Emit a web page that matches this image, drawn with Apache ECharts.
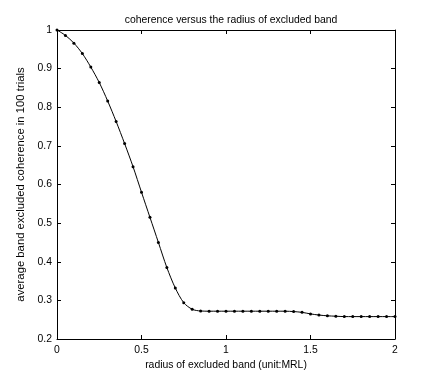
<!DOCTYPE html>
<html><head><meta charset="utf-8">
<script src="https://cdn.jsdelivr.net/npm/echarts@6/dist/echarts.min.js"></script>
<style>html,body{margin:0;padding:0;background:#fff}#c{width:436px;height:382px}</style>
</head><body><div id="c"></div>
<script>
var radius = [0,0.05,0.1,0.15,0.2,0.25,0.3,0.35,0.4,0.45,0.5,0.55,0.6,0.65,0.7,0.75,0.8,0.85,0.9,0.95,1,1.05,1.1,1.15,1.2,1.25,1.3,1.35,1.4,1.45,1.5,1.55,1.6,1.65,1.7,1.75,1.8,1.85,1.9,1.95,2];
var coherence = [1.0,0.986,0.966,0.939,0.904,0.864,0.816,0.763,0.706,0.646,0.580,0.515,0.450,0.385,0.332,0.294,0.277,0.2725,0.272,0.272,0.272,0.272,0.272,0.272,0.272,0.272,0.272,0.272,0.271,0.269,0.265,0.262,0.260,0.259,0.258,0.258,0.258,0.258,0.258,0.258,0.258];
var titleText = "coherence versus the radius of excluded band";
var xName = "radius of excluded band (unit:MRL)";
var yName = "average band excluded coherence in 100 trials";

var data = radius.map(function(r,i){return [r, coherence[i]];});
var font = "Liberation Sans, Arial, sans-serif";
var axBase = {
  axisLine:{show:true,onZero:false,lineStyle:{color:'#000',width:1}},
  axisTick:{show:true,inside:true,length:4,lineStyle:{color:'#000'}},
  splitLine:{show:false}
};
var chart = echarts.init(document.getElementById('c'));
chart.setOption({
  animation:false,
  backgroundColor:'#fff',
  title:{text:titleText,left:226,textAlign:'center',top:10,textStyle:{fontFamily:font,fontSize:10.4,fontWeight:'normal',color:'#000'}},
  grid:{left:57,right:41,top:30,bottom:43},
  xAxis:[
    Object.assign({type:'value',min:0,max:2,interval:0.5,position:'bottom',
      name:xName,nameLocation:'middle',nameGap:19,
      nameTextStyle:{fontFamily:font,fontSize:10.4,color:'#000'},
      axisLabel:{fontFamily:font,fontSize:10.4,color:'#000',margin:6}},axBase),
    Object.assign({type:'value',min:0,max:2,interval:0.5,position:'top',axisLabel:{show:false}},axBase)
  ],
  yAxis:[
    Object.assign({type:'value',min:0.2,max:1,interval:0.1,position:'left',
      name:yName,nameLocation:'middle',nameGap:27,
      nameTextStyle:{fontFamily:font,fontSize:11.3,color:'#000'},
      axisLabel:{fontFamily:font,fontSize:10.4,color:'#000',margin:5,formatter:function(v){return +v.toFixed(1)+'';}}},axBase),
    Object.assign({type:'value',min:0.2,max:1,interval:0.1,position:'right',axisLabel:{show:false}},axBase)
  ],
  series:[{type:'line',data:data,xAxisIndex:0,yAxisIndex:0,symbol:'circle',symbolSize:3,smooth:0.3,
    lineStyle:{color:'#000',width:1},itemStyle:{color:'#000'}}]
});
</script></body></html>
